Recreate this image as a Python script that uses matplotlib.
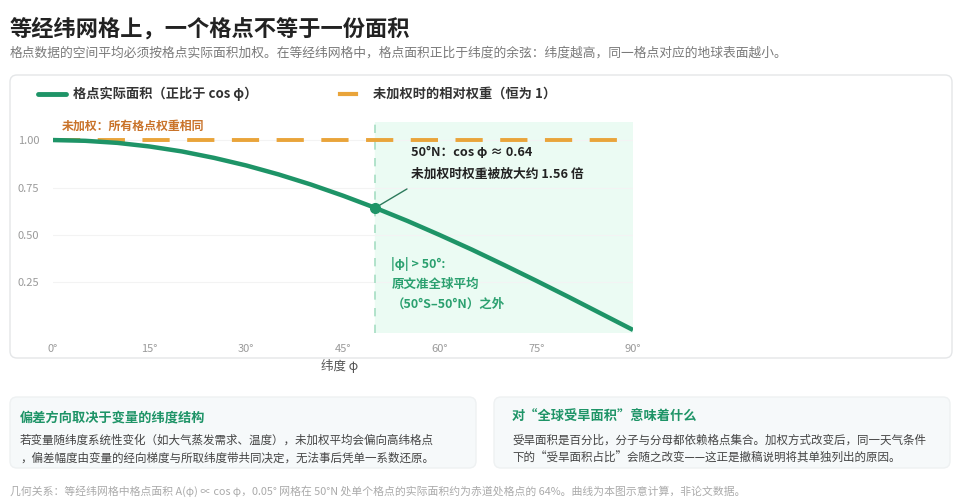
import matplotlib.pyplot as plt
from matplotlib.patches import FancyBboxPatch

plt.rcParams['font.family'] = ['Noto Sans CJK SC', 'DejaVu Sans']

# values
lat = [0, 5, 10, 15, 20, 25, 30, 35, 40, 45, 50, 55, 60, 65, 70, 75, 80, 85, 90]
area = [1.000, 0.996, 0.985, 0.966, 0.940, 0.906, 0.866, 0.819, 0.766, 0.707, 0.643,
        0.574, 0.500, 0.423, 0.342, 0.259, 0.174, 0.087, 0.000]
unweighted = [1.00, 1.00]
unweighted_x = [0, 90]
mark_lat, mark_val = 50, 0.643
xticks = [0, 15, 30, 45, 60, 75, 90]
xlabels = ["0°", "15°", "30°", "45°", "60°", "75°", "90°"]
yticks = [0.25, 0.50, 0.75, 1.00]

W, H = 960, 504
GREEN = "#1e9467"
ORANGE = "#e9a43a"
DARK = "#222222"

fig = plt.figure(figsize=(W / 100, H / 100), dpi=100)
fig.patch.set_facecolor("white")

# pixel-space background layer
bg = fig.add_axes([0, 0, 1, 1], zorder=0)
bg.set_xlim(0, W)
bg.set_ylim(H, 0)
bg.axis("off")


def card(x0, y0, x1, y1, fc, ec):
    bg.add_patch(FancyBboxPatch((x0, y0), x1 - x0, y1 - y0,
                                boxstyle="round,pad=0,rounding_size=7",
                                fc=fc, ec=ec, lw=1.0))


card(10, 75, 952, 358, "white", "#e4e6e8")
card(10, 397, 476, 468, "#f6f9fa", "#eef1f2")
card(494, 397, 950, 468, "#f6f9fa", "#eef1f2")

bg.text(10, 29, "等经纬网格上，一个格点不等于一份面积", fontsize=16, fontweight="bold",
        color=DARK, va="center")
bg.text(10, 53, "格点数据的空间平均必须按格点实际面积加权。在等经纬网格中，格点面积正比于纬度的余弦：纬度越高，同一格点对应的地球表面越小。",
        fontsize=9.2, color="#7a7a7a", va="center")

# legend
bg.plot([38, 66], [94, 94], color=GREEN, lw=3.5, solid_capstyle="round")
bg.text(73, 94, "格点实际面积（正比于 cos φ）", fontsize=9.5, fontweight="bold",
        color="#333333", va="center")
bg.plot([340, 356], [94, 94], color=ORANGE, lw=3)
bg.text(373, 94, "未加权时的相对权重（恒为 1）", fontsize=9.5, fontweight="bold",
        color="#333333", va="center")

bg.text(340, 366, "纬度 φ", fontsize=9, color="#555555", ha="center", va="center")

# bottom cards
bg.text(20, 417, "偏差方向取决于变量的纬度结构", fontsize=9.5, fontweight="bold",
        color=GREEN, va="center")
bg.text(20, 440, "若变量随纬度系统性变化（如大气蒸发需求、温度），未加权平均会偏向高纬格点",
        fontsize=8.3, color="#444444", va="center")
bg.text(20, 458, "，偏差幅度由变量的经向梯度与所取纬度带共同决定，无法事后凭单一系数还原。",
        fontsize=8.3, color="#444444", va="center")
bg.text(512, 417, "对“全球受旱面积”意味着什么", fontsize=9.5, fontweight="bold",
        color=GREEN, va="center")
bg.text(512, 440, "受旱面积是百分比，分子与分母都依赖格点集合。加权方式改变后，同一天气条件",
        fontsize=8.3, color="#444444", va="center")
bg.text(512, 458, "下的“受旱面积占比”会随之改变——这正是撤稿说明将其单独列出的原因。",
        fontsize=8.3, color="#444444", va="center")

bg.text(10, 491, "几何关系：等经纬网格中格点面积 A(φ) ∝ cos φ，0.05° 网格在 50°N 处单个格点的实际面积约为赤道处格点的 64%。曲线为本图示意计算，非论文数据。",
        fontsize=7.8, color="#aaaaaa", va="center")

# main chart axes, placed in pixels
left, right, top, bottom = 53, 633, 122, 333
ax = fig.add_axes([left / W, 1 - bottom / H, (right - left) / W, (bottom - top) / H],
                  zorder=1)
ax.set_facecolor("none")
ax.set_xlim(0, 90)
ax.set_ylim(-0.016, 1.095)
for s in ax.spines.values():
    s.set_visible(False)
ax.tick_params(length=0, labelsize=8, colors="#9a9a9a", pad=8)
ax.set_xticks(xticks)
ax.set_xticklabels(xlabels)
ax.set_yticks(yticks)
ax.set_yticklabels([f"{v:.2f}" for v in yticks])
ax.tick_params(axis="y", pad=10)
ax.grid(axis="y", color="#f3f3f3", lw=0.8)
ax.set_axisbelow(True)

ax.axvspan(mark_lat, 90, color="#ebfbf3", zorder=0)
ax.axvline(mark_lat, color="#a6dec3", lw=1.2, ls=(0, (5, 5)), zorder=1)

ax.plot(unweighted_x, unweighted, color=ORANGE, lw=2.8, ls=(0, (7, 4.5)), zorder=2)
ax.plot(lat, area, color=GREEN, lw=3.2, zorder=3, solid_capstyle="butt",
        solid_joinstyle="round")
ax.plot([mark_lat], [mark_val], "o", color=GREEN, ms=7, zorder=4)

ax.annotate("", xy=(mark_lat, mark_val), xytext=(55.3, 0.75),
            arrowprops=dict(arrowstyle="-", color="#2c7a5b", lw=1.0))

ax.text(1.4, 1.074, "未加权：所有格点权重相同", fontsize=8.6, fontweight="bold",
        color="#c9732a", va="center")
ax.text(55.5, 0.935, "50°N：cos φ ≈ 0.64", fontsize=9.2, fontweight="bold",
        color=DARK, va="center")
ax.text(55.5, 0.82, "未加权时权重被放大约 1.56 倍", fontsize=9.2, fontweight="bold",
        color=DARK, va="center")
ax.text(52.5, 0.345, "|φ| > 50°:", fontsize=9, fontweight="bold", color="#2ba06f", va="center")
ax.text(52.5, 0.24, "原文准全球平均", fontsize=9, fontweight="bold", color="#2ba06f", va="center")
ax.text(52.5, 0.135, "（50°S–50°N）之外", fontsize=9, fontweight="bold", color="#2ba06f", va="center")

fig.savefig("out.png", dpi=100)
